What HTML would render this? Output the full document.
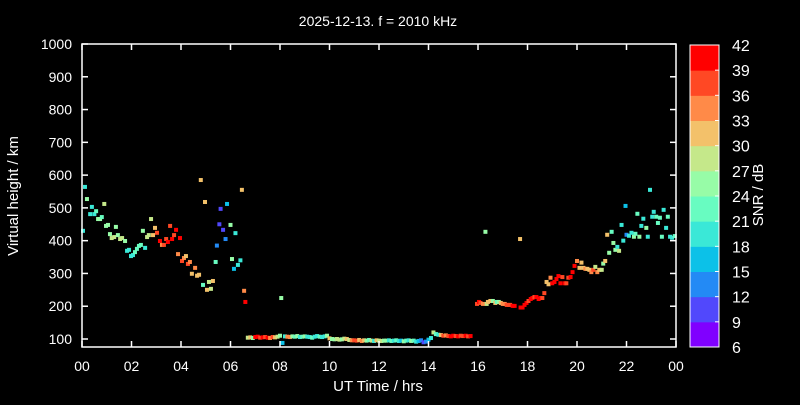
<!DOCTYPE html>
<html><head><meta charset="utf-8"><style>
body{margin:0;background:#000;}
svg text{font-family:"Liberation Sans",sans-serif;fill:#fff;}
</style></head><body>
<svg id="c" width="800" height="400" viewBox="0 0 800 400">
<rect width="800" height="400" fill="#000"/>
<text x="378" y="26" font-size="14" text-anchor="middle">2025-12-13. f = 2010 kHz</text>
<g id="marks"></g>
<g id="axes"></g>
<text x="378" y="391" font-size="15" text-anchor="middle">UT Time / hrs</text>
<text transform="translate(18,196) rotate(-90)" font-size="15" text-anchor="middle">Virtual height / km</text>
<g id="cbar"></g>
<text transform="translate(763,195) rotate(-90)" font-size="15" text-anchor="middle">SNR / dB</text>
</svg>
<script>
const xTicks=["00","02","04","06","08","10","12","14","16","18","20","22","00"];
const yTicks=[100,200,300,400,500,600,700,800,900,1000];
const cbTicks=[6,9,12,15,18,21,24,27,30,33,36,39,42];
const hours=[0.04,0.12,0.2,0.33,0.4,0.5,0.57,0.65,0.73,0.8,0.9,0.97,1.05,1.13,1.2,1.3,1.37,1.45,1.54,1.62,1.74,1.82,1.9,1.98,2.06,2.14,2.22,2.3,2.38,2.46,2.55,2.63,2.7,2.79,2.87,2.95,3.03,3.15,3.23,3.31,3.4,3.47,3.56,3.64,3.72,3.8,3.88,3.96,4.04,4.12,4.2,4.28,4.36,4.44,4.57,4.65,4.73,4.8,4.89,4.97,5.05,5.13,5.21,5.29,5.4,5.45,5.55,5.6,5.7,5.8,5.86,6.0,6.06,6.14,6.2,6.3,6.4,6.46,6.55,6.6,8.05,
6.7,6.8,6.9,7.0,7.1,7.2,7.3,7.4,7.5,7.6,7.7,7.8,7.9,8.0,8.1,8.2,8.3,8.4,8.5,8.6,8.7,8.8,8.9,9.0,9.1,9.2,9.3,9.4,9.5,9.6,9.7,9.8,9.9,10.0,10.1,10.2,10.3,10.4,10.5,10.6,10.7,10.8,10.9,11.0,11.1,11.2,11.3,11.4,11.5,11.6,11.7,11.8,11.9,12.0,12.1,12.2,12.3,12.4,12.5,12.6,12.7,12.8,12.9,13.0,13.1,13.2,13.3,13.4,13.5,13.6,13.7,13.8,13.9,14.0,14.1,14.2,14.3,14.4,14.5,14.6,14.7,14.8,14.9,15.0,15.1,15.2,15.3,15.4,15.5,15.6,15.7,
16.3,17.7,15.96,16.04,16.1,16.2,16.35,16.4,16.5,16.6,16.7,16.76,16.84,16.92,17.0,17.08,17.16,17.24,17.3,17.4,17.48,17.72,17.8,17.88,17.96,18.04,18.13,18.2,18.28,18.36,18.45,18.53,18.6,18.68,18.77,18.85,18.93,19.0,19.09,19.17,19.25,19.33,19.41,19.5,19.57,19.65,19.74,19.82,19.9,20.0,20.1,20.18,20.26,20.34,20.42,20.5,20.58,20.66,20.74,20.82,20.9,21.0,21.06,21.14,21.22,21.3,21.4,21.47,21.55,21.63,21.7,21.8,21.87,21.96,22.0,22.1,22.2,22.3,22.36,22.44,22.52,22.6,22.68,22.8,22.86,22.95,23.04,23.1,23.2,23.27,23.35,23.43,23.5,23.6,23.67,23.76,23.84,23.95];
const heights=[430,564,527,481,503,481,490,466,466,472,512,445,448,420,408,411,442,417,405,408,399,369,372,353,356,365,375,384,387,430,378,411,417,466,417,439,424,399,387,387,405,396,445,405,417,433,359,408,338,347,353,329,335,299,317,293,296,585,265,518,250,274,253,277,335,385,450,497,433,405,512,448,344,314,423,326,340,555,247,213,225,
104,105,103,106,107,104,105,106,104,103,106,105,107,110,88,108,107,106,108,107,109,106,107,108,107,106,104,107,109,107,106,108,110,102,100,99,100,98,99,101,100,97,96,96,95,97,94,96,95,97,95,94,96,95,94,95,95,96,94,95,96,94,95,93,95,96,94,95,92,94,96,90,92,98,103,120,115,113,112,110,111,109,108,110,109,108,110,109,110,108,109,
427,405,207,213,210,207,207,213,216,216,210,213,213,210,207,207,204,204,204,201,201,196,196,204,210,216,222,225,228,228,222,225,225,240,274,267,287,270,274,283,292,270,289,270,270,287,289,304,323,338,317,333,317,314,314,311,304,311,320,304,311,311,330,338,418,363,427,393,372,381,369,448,400,506,418,415,424,412,421,482,412,445,467,439,412,555,473,488,473,454,470,412,494,439,473,412,409,414];
const snr=[19,20,25,20,20,20,21,24,24,22,27,24,24,25,27,27,24,25,27,27,25,20,20,19,19,21,22,23,23,25,19,27,28,27,30,32,36,39,35,36,38,40,37,39,38,40,35,40,36,34,32,36,35,32,34,30,32,32,21,32,32,27,28,31,21,12,9,9,9,12,15,24,25,16,19,18,20,31,35,42,25,
27,32,25,42,42,38,40,36,40,35,36,32,27,24,16,20,33,35,24,22,25,20,21,24,20,18,22,20,18,21,18,20,24,32,24,26,28,27,25,27,30,27,33,36,38,32,35,30,24,22,27,20,30,27,28,26,24,20,22,18,21,20,16,24,22,20,24,22,18,16,12,11,12,16,18,28,21,18,30,36,33,36,39,40,38,40,36,38,40,36,39,
25,32,36,39,36,33,27,30,30,24,32,22,24,30,33,33,36,38,36,40,40,40,40,40,40,38,39,39,38,40,40,39,38,38,31,31,35,41,40,41,40,41,38,39,38,38,40,40,41,35,31,32,32,35,31,31,35,38,28,35,31,28,25,32,31,24,21,25,24,20,27,20,20,16,14,20,20,24,22,23,24,20,20,24,20,20,20,20,22,21,21,22,20,20,21,20,20,21];
const X0=82,X1=676,Y0=44,Y1=347,HMIN=0,HMAX=24,KMIN=1000,KPX=295/900;
function xs(h){return X0+(h-HMIN)/(HMAX-HMIN)*(X1-X0);}
function ys(k){return Y0+(KMIN-k)*KPX;}
function cl(v){return Math.max(0,Math.min(1,v));}
function rainbow(t){const r=cl(Math.abs(2*t-0.5)),g=cl(Math.sin(Math.PI*t)),b=cl(Math.cos(Math.PI*t/2));
 return `rgb(${Math.round(r*255)},${Math.round(g*255)},${Math.round(b*255)})`;}
function snrColor(s){let i=Math.floor((s-6)/3);i=Math.max(0,Math.min(11,i));return rainbow(i/11);}
const NS="http://www.w3.org/2000/svg";
function mk(tag,attrs,parent){const e=document.createElementNS(NS,tag);for(const k in attrs)e.setAttribute(k,attrs[k]);parent.appendChild(e);return e;}
const marks=document.getElementById('marks');
const n=Math.min(hours.length,heights.length,snr.length);
for(let i=0;i<n;i++){
 const r=mk('rect',{x:xs(hours[i])-2,y:ys(heights[i])-2,width:4,height:4,fill:snrColor(snr[i])},marks);
 
 
}
const ax=document.getElementById('axes');
const frame=mk('rect',{x:X0,y:Y0,width:X1-X0,height:Y1-Y0,fill:'none',stroke:'#fff','stroke-width':1.5},ax);


xTicks.forEach((t,i)=>{const x=xs(i*2);
 mk('line',{x1:x,x2:x,y1:Y1,y2:Y1-6,stroke:'#fff','stroke-width':1.5},ax);
 mk('line',{x1:x,x2:x,y1:Y0,y2:Y0+6,stroke:'#fff','stroke-width':1.5},ax);
 const tx=mk('text',{x:x,y:Y1+24,'font-size':14,'text-anchor':'middle'},ax);tx.textContent=t;
 
 
});
yTicks.forEach(v=>{const y=ys(v);
 mk('line',{x1:X0,x2:X0+6,y1:y,y2:y,stroke:'#fff','stroke-width':1.5},ax);
 mk('line',{x1:X1,x2:X1-6,y1:y,y2:y,stroke:'#fff','stroke-width':1.5},ax);
 const tx=mk('text',{x:X0-10,y:y+5,'font-size':14,'text-anchor':'end'},ax);tx.textContent=v;
 
 
});
const cb=document.getElementById('cbar');
const CX=690,CW=29,CT=45,CB=347,bh=(CB-CT)/12;
for(let i=0;i<12;i++){
 const r=mk('rect',{x:CX,y:CB-(i+1)*bh,width:CW,height:bh+0.5,fill:rainbow(i/11)},cb);
 
 
}
mk('rect',{x:CX,y:CT,width:CW,height:CB-CT,fill:'none',stroke:'#fff','stroke-width':1},cb);
cbTicks.forEach((v,i)=>{const y=CB-i*bh;
 mk('line',{x1:CX+CW-4,x2:CX+CW,y1:y,y2:y,stroke:'#fff'},cb);
 const tx=mk('text',{x:732,y:y+6,'font-size':16},cb);tx.textContent=v;
 
 
});
</script>
</body></html>
